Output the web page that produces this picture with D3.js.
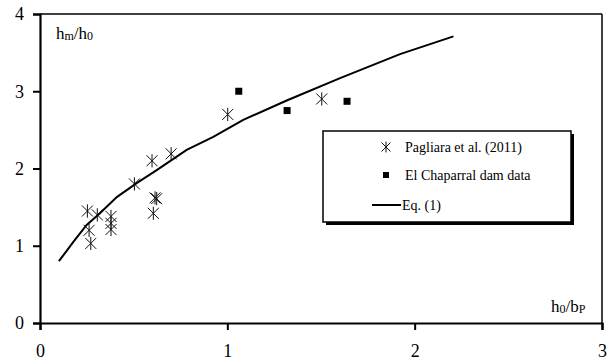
<!DOCTYPE html>
<html>
<head>
<meta charset="utf-8">
<script src="https://cdn.jsdelivr.net/npm/d3@7"></script>
<style>
  body { margin: 0; background: #fff; }
  svg text { font-family: "Liberation Serif", "Times New Roman", serif; }
</style>
</head>
<body>
<svg id="chart" width="615" height="364"></svg>
<script>
// Pagliara et al. (2011)
var pagliaraX = [0.253, 0.306, 0.262, 0.271, 0.379, 0.379, 0.379, 0.504, 0.605, 0.614, 0.623, 0.598, 0.70, 1.002, 1.504];
var pagliaraY = [1.45, 1.40, 1.20, 1.03, 1.38, 1.29, 1.21, 1.80, 1.42, 1.62, 1.61, 2.10, 2.19, 2.70, 2.90];

// El Chaparral dam data
var chaparralX = [1.061, 1.319, 1.639];
var chaparralY = [3.00, 2.75, 2.87];

// Eq. (1)
var eqX = [0.101, 0.178, 0.249, 0.320, 0.410, 0.516, 0.623, 0.783, 0.925, 1.085, 1.317, 1.602, 1.922, 2.207];
var eqY = [0.80, 1.05, 1.27, 1.42, 1.63, 1.81, 1.98, 2.24, 2.41, 2.63, 2.88, 3.17, 3.48, 3.71];

var xTicks = [0, 1, 2, 3];
var yTicks = [0, 1, 2, 3, 4];
var legendLabels = ["Pagliara et al. (2011)", "El Chaparral dam data", "Eq. (1)"];

var margin = {top: 14, right: 13, bottom: 41, left: 40};
var width = 615 - margin.left - margin.right;
var height = 364 - margin.top - margin.bottom;

var svg = d3.select("#chart");
var g = svg.append("g").attr("transform", "translate(" + margin.left + "," + margin.top + ")");

var xScale = d3.scaleLinear().domain([0, 3]).range([0, width]);
var yScale = d3.scaleLinear().domain([0, 4]).range([height, 0]);

// frame top / right
g.append("line").attr("x1", 0).attr("x2", width).attr("y1", 0).attr("y2", 0)
  .attr("stroke", "#000").attr("stroke-width", 1.5);
g.append("line").attr("x1", width).attr("x2", width).attr("y1", 0).attr("y2", height)
  .attr("stroke", "#000").attr("stroke-width", 1.5);

// axes
var gX = g.append("g").attr("transform", "translate(0," + height + ")")
  .call(d3.axisBottom(xScale).tickValues(xTicks).tickFormat(d3.format("d")).tickSize(7).tickPadding(14));
var gY = g.append("g")
  .call(d3.axisLeft(yScale).tickValues(yTicks).tickFormat(d3.format("d")).tickSize(7).tickPadding(9));

[gX, gY].forEach(function(ax) {
  ax.attr("font-family", null).attr("font-size", null);
  ax.select(".domain").attr("stroke-width", 2.2);
  ax.selectAll(".tick line").attr("stroke-width", 2);
  ax.selectAll(".tick text").style("font-size", "18px").attr("fill", "#000");
});

// Eq. (1) curve
var lineGen = d3.line()
  .x(function(d, i) { return xScale(eqX[i]); })
  .y(function(d, i) { return yScale(eqY[i]); });

g.append("path")
  .datum(eqX)
  .attr("d", lineGen)
  .attr("fill", "none")
  .attr("stroke", "#000")
  .attr("stroke-width", 2);

// asterisk marker
function star(sel, s) {
  sel.append("path")
    .attr("d", "M" + (-s) + "," + (-s) + "L" + s + "," + s +
               "M" + (-s) + "," + s + "L" + s + "," + (-s) +
               "M0," + (-s * 1.2) + "L0," + (s * 1.2))
    .attr("stroke", "#111")
    .attr("stroke-width", 1)
    .attr("fill", "none");
}

g.append("g").selectAll("g")
  .data(pagliaraX)
  .join("g")
  .attr("transform", function(d, i) { return "translate(" + xScale(d) + "," + yScale(pagliaraY[i]) + ")"; })
  .each(function() { star(d3.select(this), 5.5); });

g.append("g").selectAll("rect")
  .data(chaparralX)
  .join("rect")
  .attr("x", function(d) { return xScale(d) - 3.5; })
  .attr("y", function(d, i) { return yScale(chaparralY[i]) - 3.5; })
  .attr("width", 7)
  .attr("height", 7)
  .attr("fill", "#000");

// axis titles
var yt = svg.append("text").attr("x", 56).attr("y", 39).style("font-size", "17px");
yt.append("tspan").text("h");
yt.append("tspan").style("font-size", "12px").attr("dy", 1).text("m");
yt.append("tspan").attr("dy", -1).text("/h");
yt.append("tspan").style("font-size", "12px").attr("dy", 1).text("0");

var xt = svg.append("text").attr("x", 551).attr("y", 312).style("font-size", "17px");
xt.append("tspan").text("h");
xt.append("tspan").style("font-size", "12px").attr("dy", 1).text("0");
xt.append("tspan").attr("dy", -1).text("/b");
xt.append("tspan").style("font-size", "12px").attr("dy", 1).text("P");

// legend
var lg = svg.append("g").attr("transform", "translate(323,131)");
lg.append("rect").attr("x", 3).attr("y", 3).attr("width", 248).attr("height", 91).attr("fill", "#000");
lg.append("rect").attr("x", 0).attr("y", 0).attr("width", 248).attr("height", 91)
  .attr("fill", "#fff").attr("stroke", "#000").attr("stroke-width", 1.5);

var rows = [16, 44, 74];
var it0 = lg.append("g").attr("transform", "translate(63," + rows[0] + ")");
star(it0, 4.5);
lg.append("rect").attr("x", 60).attr("y", rows[1] - 3).attr("width", 6).attr("height", 6).attr("fill", "#000");
lg.append("line").attr("x1", 49).attr("x2", 78).attr("y1", rows[2]).attr("y2", rows[2])
  .attr("stroke", "#000").attr("stroke-width", 2);

lg.selectAll("text.lab")
  .data(legendLabels)
  .join("text")
  .attr("class", "lab")
  .attr("x", function(d, i) { return i == 2 ? 79 : 82; })
  .attr("y", function(d, i) { return rows[i] + 5; })
  .style("font-size", "14px")
  .text(function(d) { return d; });
</script>
</body>
</html>
